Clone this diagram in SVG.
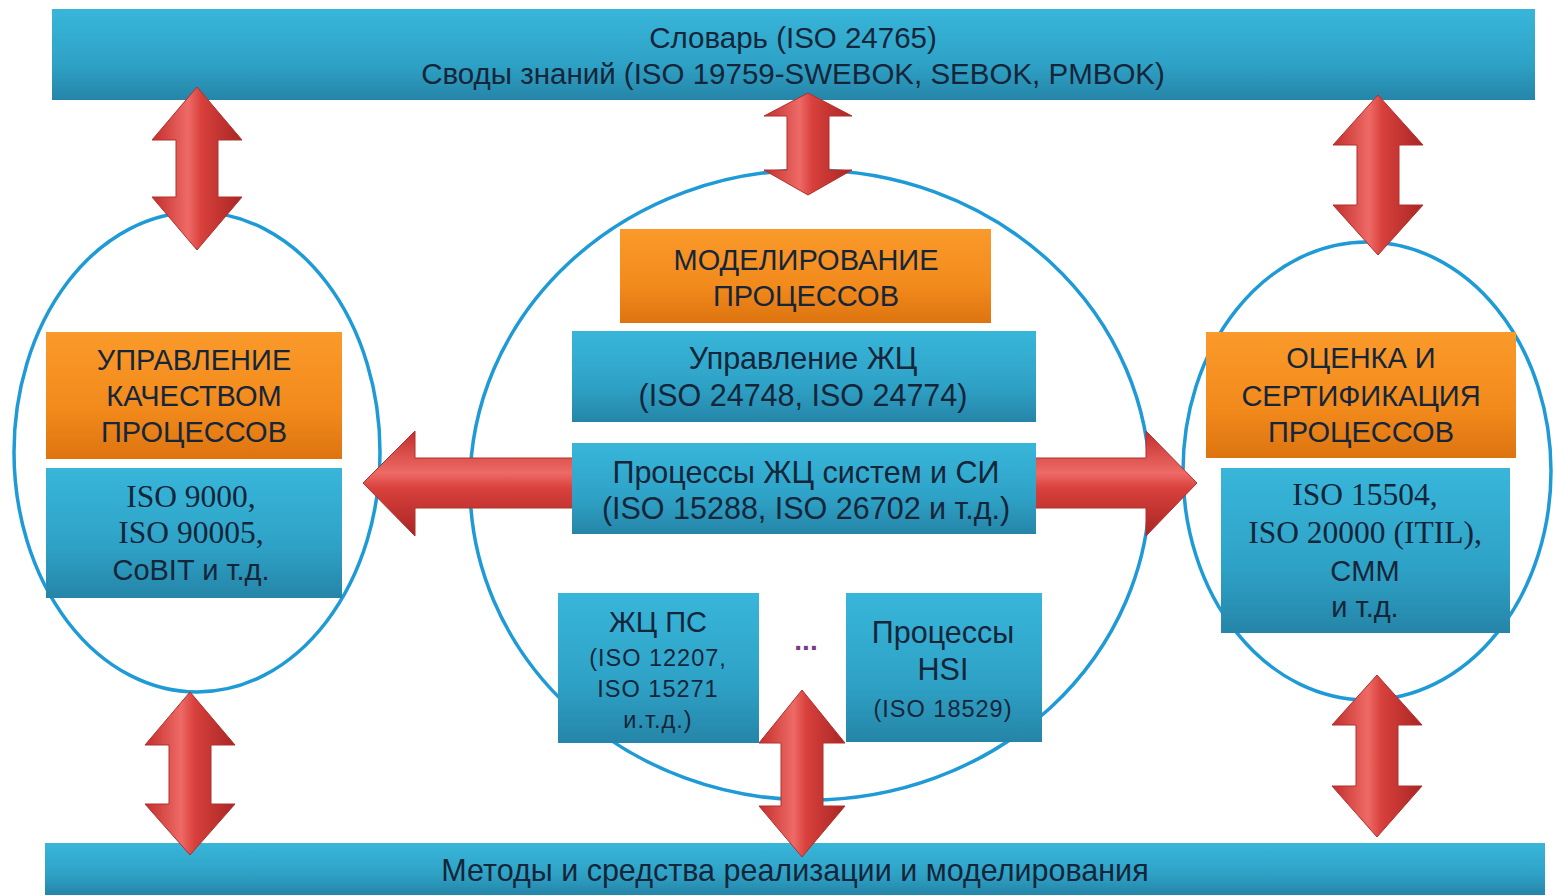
<svg xmlns="http://www.w3.org/2000/svg" width="1555" height="895" viewBox="0 0 1555 895">
<defs>
<linearGradient id="gBlue" x1="0" y1="0" x2="0" y2="1">
<stop offset="0" stop-color="#38B6DA"/>
<stop offset="0.6" stop-color="#2EA2C6"/>
<stop offset="1" stop-color="#2585A8"/>
</linearGradient>
<linearGradient id="gOrange" x1="0" y1="0" x2="0" y2="1">
<stop offset="0" stop-color="#FA9A2A"/>
<stop offset="0.6" stop-color="#F28A1C"/>
<stop offset="1" stop-color="#DD7410"/>
</linearGradient>
<linearGradient id="gRedV" x1="0" y1="0" x2="1" y2="0">
<stop offset="0" stop-color="#C22E2C"/>
<stop offset="0.4" stop-color="#EE6A66"/>
<stop offset="0.55" stop-color="#D8403C"/>
<stop offset="1" stop-color="#A82624"/>
</linearGradient>
<linearGradient id="gRedH" x1="0" y1="0" x2="0" y2="1">
<stop offset="0" stop-color="#C22E2C"/>
<stop offset="0.4" stop-color="#EE6A66"/>
<stop offset="0.55" stop-color="#D8403C"/>
<stop offset="1" stop-color="#A82624"/>
</linearGradient>
</defs>
<style>
.blue{fill:url(#gBlue);}
.orange{fill:url(#gOrange);}
.ring{fill:none;stroke:#1E9AD6;stroke-width:3.5;}
.arrV{fill:url(#gRedV);stroke:#B0302C;stroke-width:1;}
.arrH{fill:url(#gRedH);stroke:#B0302C;stroke-width:1;}
text{font-family:"Liberation Sans",Arial,sans-serif;fill:#15263A;text-anchor:middle;}
.t29{font-size:29px;}
.t30{font-size:30.5px;}
.tbar{font-size:29.5px;}
.t24{font-size:23.5px;letter-spacing:1px;}
.ser{font-family:"Liberation Serif","Times New Roman",serif;font-size:31.5px;}
.dots{fill:#7A3A8A;font-size:28px;font-weight:bold;}
</style>
<rect width="1555" height="895" fill="#ffffff"/>

<g id="top-bar">
<rect class="blue" x="52" y="9" width="1483" height="91"/>
<text class="tbar" x="793" y="48">Словарь (ISO 24765)</text>
<text class="tbar" x="793" y="84">Своды знаний (ISO 19759-SWEBOK, SEBOK, PMBOK)</text>
</g>

<g id="bottom-bar">
<rect class="blue" x="45" y="843" width="1500" height="52"/>
<text class="t30" x="795" y="881">Методы и средства реализации и моделирования</text>
</g>

<g id="ring-left"><ellipse class="ring" cx="197" cy="452" rx="183" ry="240"/></g>
<g id="ring-center"><ellipse class="ring" cx="810" cy="485" rx="340" ry="315"/></g>
<g id="ring-right"><ellipse class="ring" cx="1367" cy="471" rx="184" ry="229"/></g>

<g id="connectors">
<path class="arrV" d="M197,87 L242,140 L218,140 L218,197 L242,197 L197,250 L152,197 L176,197 L176,140 L152,140 Z"/>
<path class="arrV" d="M808,93 L852,116 L829,116 L829,170 L852,170 L808,195 L764,170 L787,170 L787,116 L764,116 Z"/>
<path class="arrV" d="M1378,95 L1423,145 L1399,145 L1399,205 L1423,205 L1378,255 L1333,205 L1357,205 L1357,145 L1333,145 Z"/>
<path class="arrV" d="M190,692 L235,745 L211,745 L211,804 L235,804 L190,855 L145,804 L169,804 L169,745 L145,745 Z"/>
<path class="arrV" d="M802,690 L845,743 L823,743 L823,806 L845,806 L802,857 L759,806 L781,806 L781,743 L759,743 Z"/>
<path class="arrV" d="M1377,675 L1422,725 L1398,725 L1398,786 L1422,786 L1377,837 L1332,786 L1356,786 L1356,725 L1332,725 Z"/>
<path class="arrH" d="M363,483 L415,431 L415,458 L1146,458 L1146,431 L1197,483 L1146,536 L1146,508 L415,508 L415,536 Z"/>
</g>

<g id="left-title">
<rect class="orange" x="46" y="332" width="296" height="127"/>
<text class="t29" x="194" y="370">УПРАВЛЕНИЕ</text>
<text class="t29" x="194" y="406">КАЧЕСТВОМ</text>
<text class="t29" x="194" y="442">ПРОЦЕССОВ</text>
</g>
<g id="left-standards">
<rect class="blue" x="46" y="468" width="296" height="130"/>
<text class="ser" x="191" y="507">ISO 9000,</text>
<text class="ser" x="191" y="543">ISO 90005,</text>
<text class="t29" x="191" y="580">CoBIT и т.д.</text>
</g>

<g id="center-title">
<rect class="orange" x="620" y="229" width="371" height="94"/>
<text class="t29" x="806" y="270">МОДЕЛИРОВАНИЕ</text>
<text class="t29" x="806" y="306">ПРОЦЕССОВ</text>
</g>
<g id="center-lc-management">
<rect class="blue" x="572" y="331" width="464" height="91"/>
<text class="t30" x="803" y="369">Управление ЖЦ</text>
<text class="t30" x="803" y="406">(ISO 24748,  ISO 24774)</text>
</g>
<g id="center-lc-processes">
<rect class="blue" x="572" y="443" width="464" height="91"/>
<text class="t30" x="806" y="483">Процессы ЖЦ систем и  СИ</text>
<text class="t30" x="806" y="519">(ISO 15288,  ISO 26702 и т.д.)</text>
</g>
<g id="center-sw">
<rect class="blue" x="558" y="593" width="201" height="150"/>
<text class="t29" x="658" y="632">ЖЦ ПС</text>
<text class="t24" x="658" y="666">(ISO 12207,</text>
<text class="t24" x="658" y="697">ISO 15271</text>
<text class="t24" x="658" y="728">и.т.д.)</text>
</g>
<text class="dots" x="806" y="650">...</text>
<g id="center-hsi">
<rect class="blue" x="846" y="593" width="196" height="149"/>
<text class="t30" x="943" y="643">Процессы</text>
<text class="t30" x="943" y="680">HSI</text>
<text class="t24" x="943" y="717">(ISO 18529)</text>
</g>

<g id="right-title">
<rect class="orange" x="1206" y="332" width="310" height="126"/>
<text class="t29" x="1361" y="368">ОЦЕНКА И</text>
<text class="t29" x="1361" y="406">СЕРТИФИКАЦИЯ</text>
<text class="t29" x="1361" y="442">ПРОЦЕССОВ</text>
</g>
<g id="right-standards">
<rect class="blue" x="1221" y="468" width="289" height="165"/>
<text class="ser" x="1365" y="505">ISO 15504,</text>
<text class="ser" x="1365" y="543">ISO 20000  (ITIL),</text>
<text class="t29" x="1365" y="581">CMM</text>
<text class="t29" x="1365" y="617">и т.д.</text>
</g>
</svg>
